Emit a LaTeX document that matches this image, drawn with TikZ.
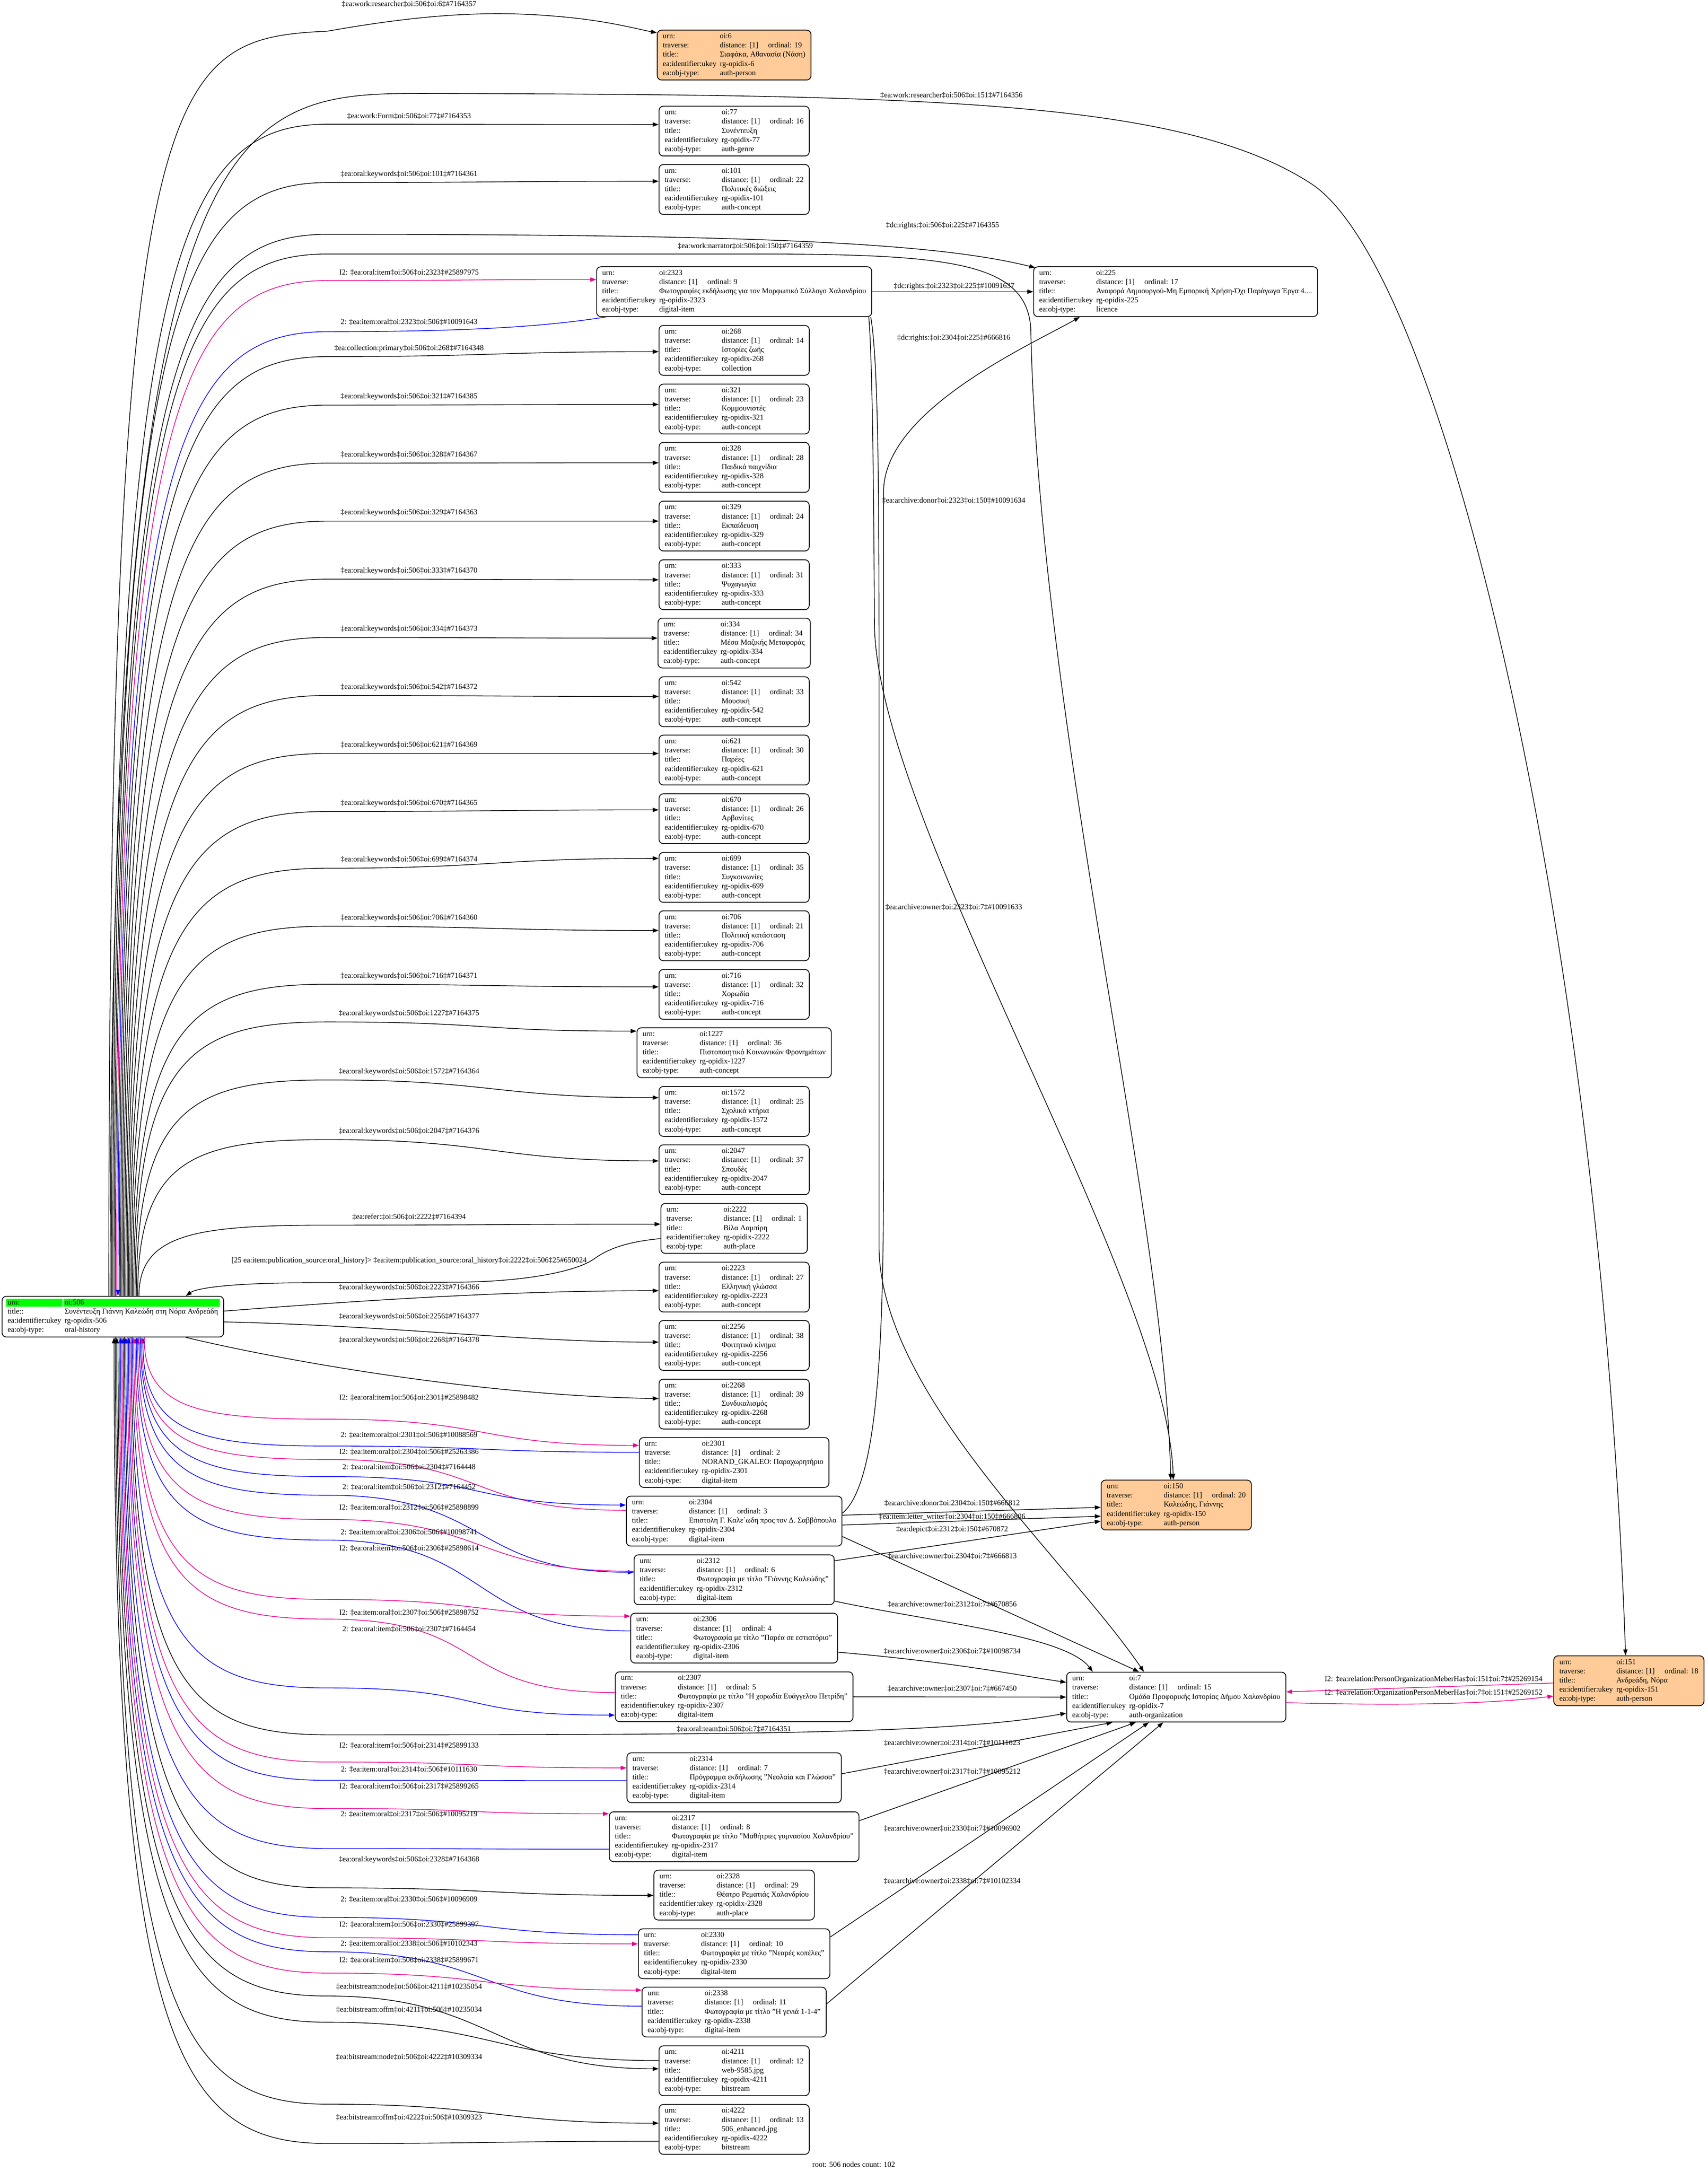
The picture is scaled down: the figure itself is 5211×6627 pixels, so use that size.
\documentclass[tikz,border=0pt]{standalone}
\usepackage{fontspec}
\setmainfont{Liberation Serif}
\usetikzlibrary{arrows.meta,calc}
\definecolor{peach}{RGB}{255,204,153}
\newcommand\nodefont{\fontsize{6.6}{7.97}\selectfont}
\newcommand\lbx[1]{\makebox[17.4mm][l]{#1}}
\newcommand\tbl[4]{\begin{tabular}{@{}l@{}l@{}}\lbx{urn:}&oi:#1\\\lbx{traverse:}&distance: [1]\hspace{3mm}ordinal: #2\hspace{1.5mm}\\\lbx{title::}&#3\\\lbx{ea:identifier:ukey}&rg-opidix-#1\\\lbx{ea:obj-type:}&#4\end{tabular}}
\newcounter{lc}
\newcommand\elab[3]{\stepcounter{lc}\node[lbl] (lab\arabic{lc}) at (#1,#2) {#3};}
\newcommand\upfan[7]{%
 \draw[#1] ($(n506.north west)+({#2-5},0)$) .. controls (#2,{#3+0.12*(3954-#3)}) and ({#2+0.3*(1000-#2)},#3) .. (1000,#3) .. controls (1500,#3) and ($(#4.west)+(-500,#5)$) .. ($(#4.west)+(0,#5)$);
 \elab{1248}{#6}{#7}}
\newcommand\downfan[7]{%
 \draw[#1] ($(n506.south west)+({#2-5},0)$) .. controls (#2,{#3-0.12*(#3-4080)}) and ({#2+0.3*(1000-#2)},#3) .. (1000,#3) .. controls (1500,#3) and ($(#4.west)+(-500,#5)$) .. ($(#4.west)+(0,#5)$);
 \elab{1248}{#6}{#7}}
\pgfdeclarelayer{bg}\pgfsetlayers{bg,main}
\begin{document}
\begin{tikzpicture}[x=0.1mm,y=-0.1mm,
 rec/.style={draw, line width=0.7pt, rounded corners=1.3mm, inner xsep=1.7mm, inner ysep=0.6mm, font=\nodefont},
 lbl/.style={inner sep=0pt, font=\nodefont},
 fw/.style={line width=0.6pt, -{Triangle[length=1.8mm,width=1.3mm]}},
 bw/.style={line width=0.6pt, {Triangle[length=1.8mm,width=1.3mm]}-}]
\useasboundingbox (0,0) rectangle (5211,6627);

% ---------- nodes ----------
\node[rec, anchor=north west] (n506) at (5,3954) {\begin{tabular}{@{}l@{}l@{}}\lbx{urn:}&oi:506\\\lbx{title::}&Συνέντευξη Γιάννη Καλεώδη στη Νόρα Ανδρεάδη\\\lbx{ea:identifier:ukey}&rg-opidix-506\\\lbx{ea:obj-type:}&oral-history\end{tabular}};
\begin{pgfonlayer}{bg}
\fill[green] ($(n506.north west)+(14,9)$) rectangle ($(n506.north west)+(186,33)$);
\fill[green] ($(n506.north west)+(189,9)$) rectangle ($(n506.north east)+(-13,33)$);
\end{pgfonlayer}

\node[rec, fill=peach] (n6) at (2240,168) {\tbl{6}{19}{Σιαφάκα, Αθανασία (Νάση)}{auth-person}};
\node[rec] (n77) at (2240,400) {\tbl{77}{16}{Συνέντευξη}{auth-genre}};
\node[rec] (n101) at (2240,578) {\tbl{101}{22}{Πολιτικές διώξεις}{auth-concept}};
\node[rec] (n2323) at (2240,890) {\tbl{2323}{9}{Φωτογραφίες εκδήλωσης για τον Μορφωτικό Σύλλογο Χαλανδρίου}{digital-item}};
\node[rec] (n225) at (3587,890) {\tbl{225}{17}{Αναφορά Δημιουργού-Μη Εμπορική Χρήση-Όχι Παράγωγα Έργα 4....}{licence}};
\node[rec] (n268) at (2240,1069) {\tbl{268}{14}{Ιστορίες ζωής}{collection}};
\node[rec] (n321) at (2240,1248) {\tbl{321}{23}{Κομμουνιστές}{auth-concept}};
\node[rec] (n328) at (2240,1426) {\tbl{328}{28}{Παιδικά παιχνίδια}{auth-concept}};
\node[rec] (n329) at (2240,1605) {\tbl{329}{24}{Εκπαίδευση}{auth-concept}};
\node[rec] (n333) at (2240,1784) {\tbl{333}{31}{Ψυχαγωγία}{auth-concept}};
\node[rec] (n334) at (2240,1962) {\tbl{334}{34}{Μέσα Μαζικής Μεταφοράς}{auth-concept}};
\node[rec] (n542) at (2240,2141) {\tbl{542}{33}{Μουσική}{auth-concept}};
\node[rec] (n621) at (2240,2319) {\tbl{621}{30}{Παρέες}{auth-concept}};
\node[rec] (n670) at (2240,2498) {\tbl{670}{26}{Αρβανίτες}{auth-concept}};
\node[rec] (n699) at (2240,2677) {\tbl{699}{35}{Συγκοινωνίες}{auth-concept}};
\node[rec] (n706) at (2240,2855) {\tbl{706}{21}{Πολιτική κατάσταση}{auth-concept}};
\node[rec] (n716) at (2240,3034) {\tbl{716}{32}{Χορωδία}{auth-concept}};
\node[rec] (n1227) at (2240,3212) {\tbl{1227}{36}{Πιστοποιητικό Κοινωνικών Φρονημάτων}{auth-concept}};
\node[rec] (n1572) at (2240,3391) {\tbl{1572}{25}{Σχολικά κτήρια}{auth-concept}};
\node[rec] (n2047) at (2240,3569) {\tbl{2047}{37}{Σπουδές}{auth-concept}};
\node[rec] (n2222) at (2240,3748) {\tbl{2222}{1}{Βίλα Λαμπίρη}{auth-place}};
\node[rec] (n2223) at (2240,3927) {\tbl{2223}{27}{Ελληνική γλώσσα}{auth-concept}};
\node[rec] (n2256) at (2240,4105) {\tbl{2256}{38}{Φοιτητικό κίνημα}{auth-concept}};
\node[rec] (n2268) at (2240,4284) {\tbl{2268}{39}{Συνδικαλισμός}{auth-concept}};
\node[rec] (n2301) at (2240,4462) {\tbl{2301}{2}{NORAND\_GKALEO: Παραχωρητήριο}{digital-item}};
\node[rec] (n2304) at (2240,4641) {\tbl{2304}{3}{Επιστολη Γ. Καλε΄ωδη προς τον Δ. Σαββόπουλο}{digital-item}};
\node[rec] (n2312) at (2240,4820) {\tbl{2312}{6}{Φωτογραφία με τίτλο "Γιάννης Καλεώδης"}{digital-item}};
\node[rec] (n2306) at (2240,4998) {\tbl{2306}{4}{Φωτογραφία με τίτλο "Παρέα σε εστιατόριο"}{digital-item}};
\node[rec] (n2307) at (2240,5177) {\tbl{2307}{5}{Φωτογραφία με τίτλο "Η χορωδία Ευάγγελου Πετρίδη"}{digital-item}};
\node[rec] (n2314) at (2240,5424) {\tbl{2314}{7}{Πρόγραμμα εκδήλωσης "Νεολαία και Γλώσσα"}{digital-item}};
\node[rec] (n2317) at (2240,5604) {\tbl{2317}{8}{Φωτογραφία με τίτλο "Μαθήτριες γυμνασίου Χαλανδρίου"}{digital-item}};
\node[rec] (n2328) at (2240,5782) {\tbl{2328}{29}{Θέατρο Ρεματιάς Χαλανδρίου}{auth-place}};
\node[rec] (n2330) at (2240,5961) {\tbl{2330}{10}{Φωτογραφία με τίτλο "Νεαρές κοπέλες"}{digital-item}};
\node[rec] (n2338) at (2240,6139) {\tbl{2338}{11}{Φωτογραφία με τίτλο "Η γενιά 1-1-4"}{digital-item}};
\node[rec] (n4211) at (2240,6318) {\tbl{4211}{12}{web-9585.jpg}{bitstream}};
\node[rec] (n4222) at (2240,6497) {\tbl{4222}{13}{506\_enhanced.jpg}{bitstream}};
\node[rec, fill=peach] (n150) at (3589,4592) {\tbl{150}{20}{Καλεώδης, Γιάννης}{auth-person}};
\node[rec] (n7) at (3589,5178) {\tbl{7}{15}{Ομάδα Προφορικής Ιστορίας Δήμου Χαλανδρίου}{auth-organization}};
\node[rec, fill=peach] (n151) at (4970,5128) {\tbl{151}{18}{Ανδρεάδη, Νόρα}{auth-person}};
\node[lbl] (foot) at (2605,6604) {root: 506 nodes count: 102};

% ---------- edges from the top of oi:506 ----------
\draw[fw] ($(n506.north west)+(327,0)$) .. controls (332,200) and (500,120) .. (1000,95) .. controls (1300,42) and (1500,32) .. (1700,50) .. controls (1850,62) and (1950,90) .. ($(n6.west)+(0,-68)$);
\elab{1248}{13}{‡ea:work:researcher‡oi:506‡oi:6‡\#7164357}
\draw[fw] ($(n506.north west)+(331,0)$) .. controls (336,300) and (700,285) .. (1300,285) .. controls (2800,290) and (3600,300) .. (4000,560) .. controls (4400,820) and (4880,2800) .. ($(n151.north)+(-10,0)$);
\elab{2903}{291}{‡ea:work:researcher‡oi:506‡oi:151‡\#7164356}
\upfan{fw}{340}{379}{n77}{-20}{354}{‡ea:work:Form‡oi:506‡oi:77‡\#7164353}
\upfan{fw}{344}{557}{n101}{-25}{532}{‡ea:oral:keywords‡oi:506‡oi:101‡\#7164361}
\draw[fw] ($(n506.north west)+(343,0)$) .. controls (348,1100) and (544,715) .. (1000,715) .. controls (2300,715) and (2850,740) .. ($(n225.north west)+(6,4)$);
\elab{2876}{688}{‡dc:rights:‡oi:506‡oi:225‡\#7164355}
\draw[fw] ($(n506.north west)+(347,0)$) .. controls (352,1150) and (546,775) .. (1000,775) -- (2300,775) .. controls (2900,775) and (3130,800) .. (3145,1000) .. controls (3170,2200) and (3555,3700) .. ($(n150.north)+(-17,0)$);
\elab{2274}{751}{‡ea:work:narrator‡oi:506‡oi:150‡\#7164359}
\upfan{fw,magenta}{356}{856}{n2323}{-37}{831}{I2: ‡ea:oral:item‡oi:506‡oi:2323‡\#25897975}
\draw[bw,blue] ($(n506.north west)+(355,0)$) .. controls (360,1380) and (548,1012) .. (1000,1012) .. controls (1500,1012) and (1700,990) .. ($(n2323.south west)+(29,0)$);
\elab{1248}{983}{2: ‡ea:item:oral‡oi:2323‡oi:506‡\#10091643}
\upfan{fw}{364}{1088}{n268}{4}{1063}{‡ea:collection:primary‡oi:506‡oi:268‡\#7164348}
\upfan{fw}{368}{1236}{n321}{-14}{1211}{‡ea:oral:keywords‡oi:506‡oi:321‡\#7164385}
\upfan{fw}{372}{1413}{n328}{-14}{1388}{‡ea:oral:keywords‡oi:506‡oi:328‡\#7164367}
\upfan{fw}{376}{1590}{n329}{-15}{1565}{‡ea:oral:keywords‡oi:506‡oi:329‡\#7164363}
\upfan{fw}{380}{1767}{n333}{-15}{1742}{‡ea:oral:keywords‡oi:506‡oi:333‡\#7164370}
\upfan{fw}{384}{1945}{n334}{-15}{1920}{‡ea:oral:keywords‡oi:506‡oi:334‡\#7164373}
\upfan{fw}{388}{2122}{n542}{-16}{2097}{‡ea:oral:keywords‡oi:506‡oi:542‡\#7164372}
\upfan{fw}{392}{2299}{n621}{-20}{2274}{‡ea:oral:keywords‡oi:506‡oi:621‡\#7164369}
\upfan{fw}{396}{2476}{n670}{-27}{2451}{‡ea:oral:keywords‡oi:506‡oi:670‡\#7164365}
\upfan{fw}{400}{2649}{n699}{-58}{2624}{‡ea:oral:keywords‡oi:506‡oi:699‡\#7164374}
\upfan{fw}{404}{2826}{n706}{-16}{2801}{‡ea:oral:keywords‡oi:506‡oi:706‡\#7164360}
\upfan{fw}{408}{3003}{n716}{-23}{2978}{‡ea:oral:keywords‡oi:506‡oi:716‡\#7164371}
\upfan{fw}{412}{3118}{n1227}{-66}{3093}{‡ea:oral:keywords‡oi:506‡oi:1227‡\#7164375}
\upfan{fw}{416}{3295}{n1572}{-42}{3270}{‡ea:oral:keywords‡oi:506‡oi:1572‡\#7164364}
\upfan{fw}{420}{3477}{n2047}{-27}{3452}{‡ea:oral:keywords‡oi:506‡oi:2047‡\#7164376}
\upfan{fw}{424}{3738}{n2222}{-13}{3713}{‡ea:refer:‡oi:506‡oi:2222‡\#7164394}
\draw[fw] ($(n2222.west)+(0,31)$) .. controls (1900,3790) and (1850,3815) .. (1814,3840) .. controls (1760,3880) and (1600,3910) .. (1400,3912) -- (900,3914) .. controls (700,3916) and (600,3930) .. ($(n506.north west)+(562,0)$);
\elab{1248}{3847}{[25 ea:item:publication\_source:oral\_history]> ‡ea:item:publication\_source:oral\_history‡oi:2222‡oi:506‡25\#650024}

% ---------- edges from the right side of oi:506 ----------
\draw[fw] ($(n506.east)+(0,-17)$) .. controls (1200,3960) and (1600,3938) .. ($(n2223.west)+(0,11)$);
\elab{1248}{3929}{‡ea:oral:keywords‡oi:506‡oi:2223‡\#7164366}
\draw[fw] ($(n506.east)+(0,16)$) .. controls (1200,4045) and (1600,4095) .. ($(n2256.west)+(0,-10)$);
\elab{1248}{4018}{‡ea:oral:keywords‡oi:506‡oi:2256‡\#7164377}
\draw[fw] ($(n506.south west)+(562,0)$) .. controls (900,4160) and (1500,4260) .. ($(n2268.west)+(0,-17)$);
\elab{1248}{4089}{‡ea:oral:keywords‡oi:506‡oi:2268‡\#7164378}

% ---------- edges from the bottom of oi:506 ----------
\downfan{fw,magenta}{440}{4330}{n2301}{-52}{4264}{I2: ‡ea:oral:item‡oi:506‡oi:2301‡\#25898482}
\downfan{bw,blue}{436}{4412}{n2301}{-31}{4378}{2: ‡ea:item:oral‡oi:2301‡oi:506‡\#10088569}
\downfan{bw,magenta}{432}{4453}{n2304}{-33}{4430}{I2: ‡ea:item:oral‡oi:2304‡oi:506‡\#25263386}
\downfan{fw,blue}{428}{4505}{n2304}{-49}{4476}{2: ‡ea:oral:item‡oi:506‡oi:2304‡\#7164448}
\downfan{fw,blue}{424}{4562}{n2312}{-23}{4538}{2: ‡ea:oral:item‡oi:506‡oi:2312‡\#7164452}
\downfan{bw,magenta}{420}{4636}{n2312}{-26}{4600}{I2: ‡ea:item:oral‡oi:2312‡oi:506‡\#25898899}
\downfan{bw,blue}{416}{4699}{n2306}{-22}{4675}{2: ‡ea:item:oral‡oi:2306‡oi:506‡\#10098741}
\downfan{fw,magenta}{412}{4880}{n2306}{-67}{4724}{I2: ‡ea:oral:item‡oi:506‡oi:2306‡\#25898614}
\downfan{bw,magenta}{408}{4940}{n2307}{-13}{4920}{I2: ‡ea:item:oral‡oi:2307‡oi:506‡\#25898752}
\downfan{fw,blue}{404}{5150}{n2307}{56}{4971}{2: ‡ea:oral:item‡oi:506‡oi:2307‡\#7164454}
\draw[fw] ($(n506.south west)+(395,0)$) .. controls (400,5150) and (580,5293) .. (1000,5293) .. controls (2300,5293) and (2900,5290) .. ($(n7.west)+(0,49)$);
\elab{2239}{5276}{‡ea:oral:team‡oi:506‡oi:7‡\#7164351}
\downfan{fw,magenta}{396}{5376}{n2314}{-30}{5326}{I2: ‡ea:oral:item‡oi:506‡oi:2314‡\#25899133}
\downfan{bw,blue}{392}{5432}{n2314}{9}{5399}{2: ‡ea:item:oral‡oi:2314‡oi:506‡\#10111630}
\downfan{fw,magenta}{388}{5518}{n2317}{-70}{5451}{I2: ‡ea:oral:item‡oi:506‡oi:2317‡\#25899265}
\downfan{bw,blue}{384}{5640}{n2317}{38}{5536}{2: ‡ea:item:oral‡oi:2317‡oi:506‡\#10095219}
\downfan{fw}{380}{5760}{n2328}{1}{5675}{‡ea:oral:keywords‡oi:506‡oi:2328‡\#7164368}
\downfan{bw,blue}{376}{5850}{n2330}{-58}{5795}{2: ‡ea:item:oral‡oi:2330‡oi:506‡\#10096909}
\downfan{fw,magenta}{372}{5912}{n2330}{-30}{5872}{I2: ‡ea:oral:item‡oi:506‡oi:2330‡\#25899397}
\downfan{bw,blue}{368}{5955}{n2338}{-18}{5931}{2: ‡ea:item:oral‡oi:2338‡oi:506‡\#10102343}
\downfan{fw,magenta}{364}{6020}{n2338}{-67}{5981}{I2: ‡ea:oral:item‡oi:506‡oi:2338‡\#25899671}
\downfan{fw}{360}{6090}{n4211}{-6}{6061}{‡ea:bitstream:node‡oi:506‡oi:4211‡\#10235054}
\downfan{bw}{356}{6170}{n4211}{-31}{6132}{‡ea:bitstream:offm‡oi:4211‡oi:506‡\#10235034}
\downfan{fw}{352}{6420}{n4222}{-19}{6276}{‡ea:bitstream:node‡oi:506‡oi:4222‡\#10309334}
\downfan{bw}{348}{6540}{n4222}{36}{6461}{‡ea:bitstream:offm‡oi:4222‡oi:506‡\#10309323}

% ---------- right-hand edges ----------
\draw[fw] (n2323.east) -- (n225.west);
\elab{2911}{874}{‡dc:rights:‡oi:2323‡oi:225‡\#10091637}
\draw[fw] ($(n2323.south east)+(-10,0)$) .. controls (2662,1100) and (2666,1500) .. (2668,1900) .. controls (2670,2500) and (3560,3900) .. ($(n150.north)+(-9,0)$);
\elab{2910}{1528}{‡ea:archive:donor‡oi:2323‡oi:150‡\#10091634}
\draw[fw] ($(n2323.south east)+(-4,0)$) .. controls (2680,1100) and (2682,1500) .. (2682,2000) -- (2682,3800) .. controls (2682,4250) and (3250,4750) .. ($(n7.north west)+(237,0)$);
\elab{2910}{2768}{‡ea:archive:owner‡oi:2323‡oi:7‡\#10091633}
\draw[fw] ($(n2304.east)+(0,-24)$) .. controls (2690,4520) and (2696,4000) .. (2696,3500) -- (2696,1500) .. controls (2696,1250) and (3150,1050) .. ($(n225.south west)+(142,0)$);
\elab{2910}{1032}{‡dc:rights:‡oi:2304‡oi:225‡\#666816}
\draw[fw] ($(n2304.east)+(0,-18)$) -- ($(n150.west)+(0,7)$);
\elab{2905}{4586}{‡ea:archive:donor‡oi:2304‡oi:150‡\#666812}
\draw[fw] ($(n2304.east)+(0,12)$) -- ($(n150.west)+(0,34)$);
\elab{2905}{4627}{‡ea:item:letter\_writer‡oi:2304‡oi:150‡\#666806}
\draw[fw] ($(n2312.east)+(0,-58)$) -- ($(n150.west)+(0,49)$);
\elab{2905}{4667}{‡ea:depict‡oi:2312‡oi:150‡\#670872}
\draw[fw] ($(n2304.east)+(0,47)$) -- ($(n7.north west)+(222,0)$);
\elab{2905}{4748}{‡ea:archive:owner‡oi:2304‡oi:7‡\#666813}
\draw[fw] ($(n2312.east)+(0,65)$) .. controls (2850,4950) and (3250,4990) .. ($(n7.north west)+(81,0)$);
\elab{2905}{4895}{‡ea:archive:owner‡oi:2312‡oi:7‡\#670856}
\draw[fw] ($(n2306.east)+(0,43)$) .. controls (2900,5070) and (3100,5110) .. ($(n7.west)+(0,-45)$);
\elab{2905}{5039}{‡ea:archive:owner‡oi:2306‡oi:7‡\#10098734}
\draw[fw] (n2307.east) -- (n7.west);
\elab{2905}{5153}{‡ea:archive:owner‡oi:2307‡oi:7‡\#667450}
\draw[fw] ($(n2314.east)+(0,-12)$) -- ($(n7.south west)+(141,0)$);
\elab{2905}{5318}{‡ea:archive:owner‡oi:2314‡oi:7‡\#10111623}
\draw[fw] ($(n2317.east)+(0,-49)$) -- ($(n7.south west)+(212,0)$);
\elab{2905}{5406}{‡ea:archive:owner‡oi:2317‡oi:7‡\#10095212}
\draw[fw] ($(n2330.east)+(0,-51)$) -- ($(n7.south west)+(252,0)$);
\elab{2905}{5579}{‡ea:archive:owner‡oi:2330‡oi:7‡\#10096902}
\draw[fw] ($(n2338.east)+(0,-25)$) -- ($(n7.south west)+(296,0)$);
\elab{2905}{5739}{‡ea:archive:owner‡oi:2338‡oi:7‡\#10102334}
\draw[fw,magenta] ($(n151.west)+(0,7)$) -- ($(n7.east)+(0,-16)$);
\elab{4374}{5124}{I2: ‡ea:relation:PersonOrganizationMeberHas‡oi:151‡oi:7‡\#25269154}
\draw[fw,magenta] ($(n7.east)+(0,17)$) .. controls (4300,5205) and (4550,5198) .. ($(n151.west)+(0,47)$);
\elab{4374}{5165}{I2: ‡ea:relation:OrganizationPersonMeberHas‡oi:7‡oi:151‡\#25269152}
\end{tikzpicture}
\end{document}
